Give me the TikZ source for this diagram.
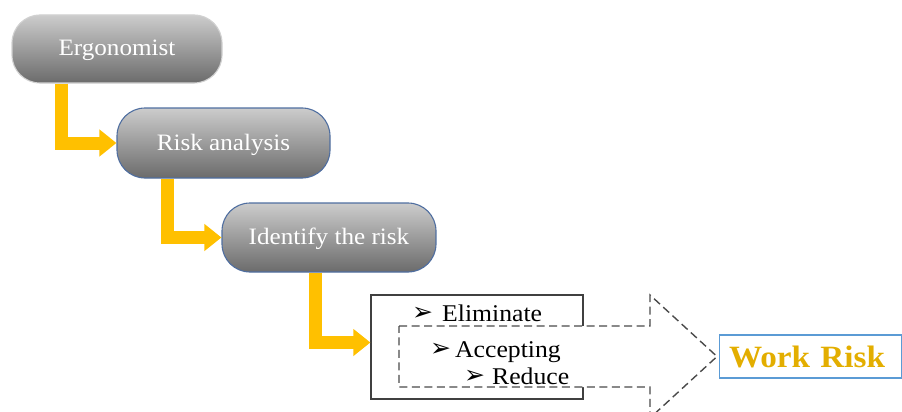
\documentclass[tikz,border=0pt]{standalone}
\usepackage{fontspec}
\setmainfont{Liberation Serif}[FakeStretch=1.07]
\newfontfamily\symfont{DejaVu Sans}
\usetikzlibrary{arrows.meta}
\definecolor{flowyellow}{HTML}{FFC000}
\definecolor{stepborder}{HTML}{4F6EA0}
\definecolor{riskgold}{HTML}{E3AE00}
\definecolor{riskblue}{HTML}{5B9BD5}
\definecolor{dashgray}{HTML}{4A4A4A}
\tikzset{
  stepbox/.style={rectangle, rounded corners=28pt, minimum height=69pt,
    top color=black!20, bottom color=black!58, text=white,
    font=\fontsize{23.5pt}{23.5pt}\selectfont, line width=1.1pt, draw=stepborder,
    text height=16pt, text depth=2pt},
  flow/.style={draw=flowyellow, line width=13pt, line join=miter,
    -{Triangle[length=17pt,width=26pt]}},
  itemtext/.style={anchor=base west, inner sep=0pt,
    font=\fontsize{24pt}{24pt}\selectfont},
  itemmark/.style={anchor=base west, inner sep=0pt,
    font=\symfont\fontsize{25pt}{25pt}\selectfont},
}
\begin{document}
\begin{tikzpicture}[x=1pt,y=-1pt]
\useasboundingbox (0,0) rectangle (902,412);

% process steps
\node[stepbox, draw=black!18, minimum width=210pt, minimum height=68pt] (ergo) at (117,49) {Ergonomist};
\node[stepbox, minimum width=213pt, minimum height=70pt] (risk) at (223.5,143) {Risk analysis};
\node[stepbox, minimum width=214pt] (ident) at (329,237.5) {Identify the risk};

% options box
\node[draw=black!75, line width=1.2pt, minimum width=212pt, minimum height=104pt] (opts) at (477,347) {};

% dashed outline arrow pointing to the result
\coordinate (dA) at (399,326);
\coordinate (dB) at (650,326);
\coordinate (dC) at (650,295);
\coordinate (dTip) at (717,356.5);
\coordinate (dD) at (650,418);
\coordinate (dE) at (650,387);
\coordinate (dF) at (399,387);
\draw[dashgray, line width=1.4pt, dash pattern=on 8pt off 4.5pt, fill=white]
  (dA) -- (dB) -- (dC) -- (dTip) -- (dD) -- (dE) -- (dF) -- cycle;

% yellow connectors
\draw[flow] ([xshift=50pt]ergo.south west) |- (risk.west);
\draw[flow] ([xshift=51.5pt]risk.south west) |- (ident.west);
\draw[flow] ([xshift=94.5pt]ident.south west) |- ([yshift=4.5pt]opts.west);

% option list
\node[itemmark] (m1) at (412,320) {➢};
\node[itemtext] (elim) at (442,321) {Eliminate};
\node[itemmark] (m2) at (430,356) {➢};
\node[itemtext] (acc) at (455,357) {Accepting};
\node[itemmark] (m3) at (464,383) {➢};
\node[itemtext] (red) at (492,384) {Reduce};

% result
\node[draw=riskblue, line width=1.1pt, anchor=west, minimum width=182pt, minimum height=43pt,
  text width=162pt, align=left, inner xsep=10pt, text=riskgold,
  font=\bfseries\fontsize{31pt}{31pt}\selectfont] (work) at (718.5,356.5) {Work Risk};
\end{tikzpicture}
\end{document}
